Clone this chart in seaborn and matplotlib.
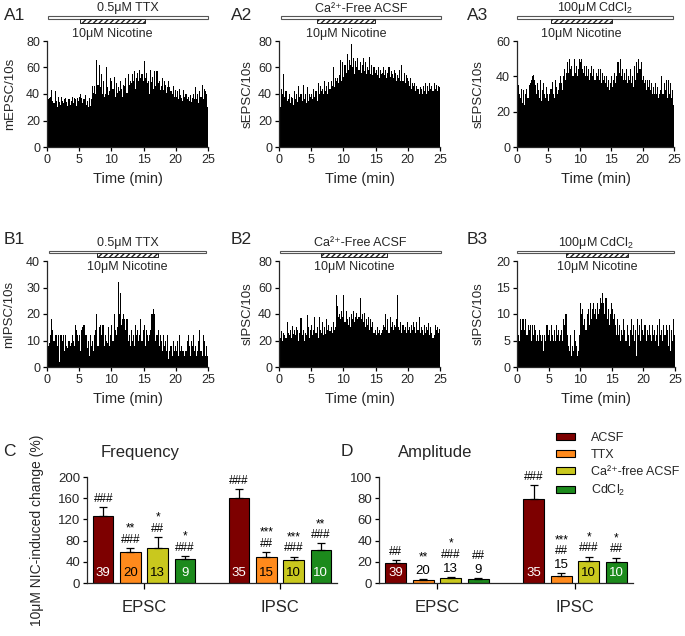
import matplotlib
matplotlib.use("Agg")
import matplotlib.pyplot as plt
from matplotlib.patches import Patch, Rectangle
from matplotlib.transforms import blended_transform_factory
import numpy as np
import pandas as pd
import seaborn as sns

# ---------------------------------------------------------------------------
# Data: events per 10-s bin, 25 min recordings (150 bins)
# ---------------------------------------------------------------------------
mepsc_ttx = [37, 36, 37, 38, 43, 35, 33, 42, 35, 30, 38, 34, 32, 38, 35, 33, 36, 37,
             34, 31, 36, 32, 35, 38, 33, 37, 36, 31, 37, 35, 38, 40, 37, 33, 36, 39,
             32, 35, 30, 37, 31, 36, 46, 41, 46, 40, 66, 47, 62, 45, 55, 40, 50, 38,
             40, 60, 45, 39, 42, 52, 50, 44, 53, 38, 48, 41, 45, 42, 50, 44, 38, 47,
             46, 52, 41, 55, 47, 50, 48, 55, 50, 57, 44, 52, 56, 50, 58, 52, 55, 50,
             65, 52, 56, 48, 50, 40, 58, 49, 53, 44, 57, 46, 57, 48, 50, 43, 46, 52,
             43, 50, 47, 41, 45, 50, 45, 42, 40, 46, 38, 43, 38, 42, 36, 44, 39, 37,
             35, 43, 38, 40, 36, 38, 35, 39, 34, 37, 40, 36, 45, 36, 40, 33, 42, 38,
             47, 36, 44, 42, 40, 30]
sepsc_ca = [45, 30, 44, 40, 55, 38, 42, 35, 36, 40, 33, 38, 37, 32, 42, 36, 40, 34,
            46, 38, 40, 35, 47, 36, 40, 33, 45, 35, 40, 38, 40, 36, 44, 38, 42, 35,
            48, 40, 46, 42, 44, 40, 50, 42, 46, 40, 49, 44, 50, 46, 60, 45, 52, 50,
            52, 48, 54, 66, 50, 64, 53, 62, 56, 70, 58, 66, 62, 78, 60, 67, 55, 65,
            60, 67, 58, 64, 56, 62, 67, 57, 64, 55, 60, 58, 68, 55, 62, 54, 60, 56,
            58, 54, 60, 52, 58, 55, 56, 60, 54, 58, 52, 56, 60, 53, 57, 55, 52, 58,
            56, 50, 54, 52, 58, 50, 62, 50, 56, 48, 54, 52, 50, 46, 52, 44, 48, 46,
            48, 42, 46, 44, 40, 45, 44, 40, 46, 42, 48, 40, 46, 42, 48, 44, 46, 42,
            48, 44, 47, 42, 46, 45]
sepsc_cd = [40, 35, 30, 28, 33, 25, 32, 24, 30, 33, 28, 35, 36, 38, 40, 41, 38, 35,
            30, 36, 32, 28, 38, 26, 32, 36, 30, 28, 34, 30, 26, 30, 33, 37, 30, 28,
            38, 34, 30, 32, 36, 40, 36, 32, 40, 44, 38, 42, 48, 42, 50, 44, 46, 40,
            50, 42, 46, 40, 44, 50, 48, 50, 44, 42, 46, 40, 46, 40, 44, 38, 42, 46,
            40, 44, 38, 42, 40, 44, 38, 44, 36, 42, 38, 40, 36, 40, 34, 38, 32, 36,
            40, 34, 38, 42, 36, 40, 48, 42, 50, 40, 44, 38, 42, 38, 44, 36, 40, 38,
            44, 36, 40, 34, 46, 38, 48, 42, 50, 44, 48, 38, 40, 36, 38, 32, 38, 34,
            38, 32, 36, 30, 34, 30, 36, 30, 34, 28, 30, 32, 40, 30, 36, 32, 38, 28,
            38, 30, 36, 28, 32, 24]
mipsc_ttx = [10, 8, 9, 12, 18, 14, 10, 12, 12, 8, 12, 2, 12, 12, 10, 12, 6, 12,
             8, 7, 10, 8, 9, 12, 10, 8, 16, 14, 12, 10, 12, 6, 14, 15, 16, 12,
             12, 7, 10, 4, 12, 8, 10, 6, 12, 14, 20, 8, 15, 16, 12, 16, 16, 8,
             12, 10, 9, 15, 8, 12, 16, 10, 20, 14, 12, 15, 32, 20, 28, 16, 18, 20,
             18, 14, 18, 10, 12, 8, 14, 10, 12, 8, 16, 12, 14, 10, 12, 18, 10, 14,
             16, 8, 14, 12, 10, 12, 14, 20, 20, 22, 20, 10, 12, 14, 8, 12, 10, 6,
             12, 8, 10, 6, 12, 3, 6, 8, 4, 10, 6, 8, 6, 10, 4, 12, 6, 8,
             6, 6, 4, 6, 10, 12, 8, 4, 10, 8, 12, 6, 8, 4, 6, 10, 14, 6,
             4, 12, 10, 4, 8, 4]
sipsc_ca = [29, 22, 27, 20, 26, 24, 22, 34, 26, 24, 28, 22, 31, 25, 28, 24, 30, 28,
            20, 26, 37, 24, 28, 20, 26, 24, 39, 30, 22, 28, 32, 24, 28, 38, 26, 30,
            22, 38, 28, 26, 34, 24, 30, 25, 36, 28, 32, 27, 30, 26, 34, 28, 30, 54,
            46, 38, 40, 36, 42, 38, 54, 34, 42, 36, 32, 38, 30, 40, 36, 42, 34, 38,
            41, 36, 38, 52, 36, 40, 34, 41, 30, 36, 32, 38, 28, 36, 30, 34, 26, 28,
            24, 30, 26, 28, 24, 26, 28, 32, 30, 40, 28, 36, 26, 38, 30, 34, 28, 32,
            30, 36, 54, 30, 28, 34, 26, 32, 28, 30, 26, 34, 28, 30, 26, 32, 28, 34,
            30, 26, 34, 28, 38, 26, 30, 28, 24, 32, 26, 30, 28, 33, 24, 30, 26, 22,
            24, 32, 28, 30, 26, 29]
sipsc_cd = [8, 6, 5, 9, 7, 9, 9, 7, 9, 6, 8, 7, 8, 5, 8, 6, 8, 7,
            5, 6, 5, 7, 6, 5, 6, 3, 6, 5, 8, 6, 7, 5, 8, 6, 5, 7,
            5, 8, 6, 7, 5, 6, 7, 5, 9, 8, 10, 6, 4, 3, 6, 2, 4, 3,
            7, 5, 4, 2, 3, 6, 12, 10, 11, 8, 9, 7, 10, 11, 8, 12, 9, 11,
            12, 10, 11, 9, 12, 10, 11, 13, 12, 14, 12, 10, 13, 9, 11, 8, 10, 12,
            11, 9, 10, 8, 6, 9, 6, 8, 5, 7, 6, 9, 7, 5, 8, 6, 4, 7,
            9, 6, 8, 5, 7, 2, 9, 6, 8, 5, 9, 7, 6, 8, 5, 7, 6, 8,
            6, 5, 8, 6, 7, 5, 6, 8, 4, 9, 6, 7, 5, 8, 6, 8, 7, 4,
            8, 3, 7, 5, 9, 6]

# Summary bars (order: EPSC x4 conditions, then IPSC x4 conditions)
groups = ["EPSC", "IPSC"]
conditions = ["ACSF", "TTX", "Ca²⁺-free ACSF", "CdCl$_2$"]
freq_mean = [127, 58, 66, 45, 160, 50, 43, 62]
freq_sem = [16, 8, 21, 6, 18, 9, 7, 13]
freq_n = ["39", "20", "13", "9", "35", "15", "10", "10"]
freq_n_inside = [True] * 8
freq_marks = ["###", "**\n###", "*\n##", "*\n###", "###", "***\n##", "***\n###", "**\n###"]
amp_mean = [19, 2.5, 5, 4, 79, 7, 21, 20]
amp_sem = [3, 1, 1, 1, 13, 2, 4, 4]
amp_n = ["39", "20", "13", "9", "35", "15", "10", "10"]
amp_n_inside = [True, False, False, False, True, False, True, True]
amp_marks = ["##", "**", "*\n###", "##", "###", "***\n##", "*\n###", "*\n##"]

cond_colors = ["#7d0000", "#ff8a1c", "#c9c81e", "#1c8a1c"]
n_text_colors = ["white", "black", "black", "white"]

W, H = 685, 636

sns.set_theme(style="ticks")
plt.rcParams["font.family"] = ["Liberation Sans", "DejaVu Sans"]
plt.rcParams["mathtext.fontset"] = "custom"
plt.rcParams["mathtext.rm"] = "Liberation Sans"
plt.rcParams["mathtext.it"] = "Liberation Sans:italic"
plt.rcParams["mathtext.default"] = "rm"
plt.rcParams["axes.linewidth"] = 0.9


def px_axes(fig, left, top, right, bottom):
    return fig.add_axes([left / W, 1 - bottom / H, (right - left) / W, (bottom - top) / H])


def style_axes(ax, fs=9):
    sns.despine(ax=ax)
    ax.tick_params(axis="both", labelsize=fs, length=3, width=0.9, pad=2,
                   direction="out", color="black")


def draw_trace(ax, counts, ymax, yticks, ylabel, label_right_px, axis_left_px,
               treat_label, treat_span, nic_span, row):
    times = np.arange(len(counts)) / 6 + 1 / 12
    sns.histplot(x=times, weights=counts, bins=len(counts), binrange=(0, 25),
                 color="black", alpha=1, linewidth=0, ax=ax)
    ax.set_xlim(0, 25)
    ax.set_ylim(0, ymax)
    ax.set_xticks([0, 5, 10, 15, 20, 25])
    ax.set_yticks(yticks)
    style_axes(ax)
    ax.set_xlabel("Time (min)", fontsize=10.5, labelpad=4)
    ax.set_ylabel(ylabel, fontsize=9.5)
    bb = ax.get_position()
    w_px = bb.width * W
    ax.yaxis.set_label_coords((label_right_px + 2 - axis_left_px) / w_px, 0.5)

    # condition / nicotine bars above the plot
    h_px = bb.height * H
    tr = blended_transform_factory(ax.transData, ax.transAxes)
    if row == "A":
        tb, th, nb, nh, tt, nt = 22.0, 3.0, 18.3, 3.4, 32.5, 7.5
    else:
        tb, th, nb, nh, tt, nt = 7.7, 2.7, 4.3, 3.3, 17.7, -5.7
    ax.add_patch(Rectangle((treat_span[0], 1 + tb / h_px), treat_span[1] - treat_span[0],
                           th / h_px, transform=tr, clip_on=False, facecolor="white",
                           edgecolor="#555555", linewidth=0.8))
    ax.add_patch(Rectangle((nic_span[0], 1 + nb / h_px), nic_span[1] - nic_span[0],
                           nh / h_px, transform=tr, clip_on=False, facecolor="white",
                           edgecolor="#222222", linewidth=0.7, hatch="//////"))
    ax.text((treat_span[0] + treat_span[1]) / 2, 1 + tt / h_px, treat_label,
            transform=tr, ha="center", va="center", fontsize=9)
    ax.text((nic_span[0] + nic_span[1]) / 2, 1 + nt / h_px, "10μM Nicotine",
            transform=tr, ha="center", va="center", fontsize=9)


def draw_summary(ax, means, sems, ns, n_inside, marks, ymax, yticks):
    df = pd.DataFrame({
        "cell": [g for g in groups for _ in conditions],
        "cond": [c for _ in groups for c in conditions],
        "change": means,
    })
    sns.barplot(data=df, x="cell", y="change", hue="cond", order=groups,
                hue_order=conditions, palette=cond_colors, saturation=1,
                width=0.8, gap=0.25, edgecolor="black", linewidth=0.8,
                errorbar=None, legend=False, ax=ax)
    bars = sorted(ax.patches, key=lambda p: p.get_x())
    xs = [p.get_x() + p.get_width() / 2 for p in bars]
    ax.errorbar(xs, means, yerr=[[0] * len(sems), sems], fmt="none",
                ecolor="black", elinewidth=0.9, capsize=3, capthick=0.9, zorder=1)
    for i, x in enumerate(xs):
        ci = i % len(conditions)
        top = means[i] + sems[i]
        cursor = 1.5
        if n_inside[i]:
            ax.annotate(ns[i], (x, 0), xytext=(0, 7), textcoords="offset points",
                        ha="center", va="center", fontsize=9.5, color=n_text_colors[ci])
        else:
            ax.annotate(ns[i], (x, top), xytext=(0, cursor), textcoords="offset points",
                        ha="center", va="bottom", fontsize=9.5, color="black")
            cursor += 10
        for line in reversed(marks[i].split("\n")):
            ax.annotate(line, (x, top), xytext=(0, cursor), textcoords="offset points",
                        ha="center", va="bottom", fontsize=8.5, color="black")
            cursor += 8
    ax.set_ylim(0, ymax)
    ax.set_yticks(yticks)
    ax.set_xlim(-0.42, 1.42)
    style_axes(ax, fs=9.5)
    ax.tick_params(axis="x", labelsize=12, pad=8, length=4)
    ax.set_xlabel("")
    ax.set_ylabel("")


fig = plt.figure(figsize=(W / 100, H / 100), dpi=100)

ax_a1 = px_axes(fig, 47, 41, 208, 147)
draw_trace(ax_a1, mepsc_ttx, 80, [0, 20, 40, 60, 80], "mEPSC/10s", 14, 47,
           "0.5μM TTX", (0.2, 25), (5.1, 15.2), "A")
ax_a2 = px_axes(fig, 279, 41, 440, 147)
draw_trace(ax_a2, sepsc_ca, 80, [0, 20, 40, 60, 80], "sEPSC/10s", 252, 279,
           "Ca²⁺-Free ACSF", (0.3, 25.2), (5.9, 14.9), "A")
ax_a3 = px_axes(fig, 517, 41, 674, 147)
draw_trace(ax_a3, sepsc_cd, 60, [0, 20, 40, 60], "sEPSC/10s", 483, 517,
           "100μM CdCl$_2$", (0.0, 24.9), (5.4, 15.1), "A")
ax_b1 = px_axes(fig, 47, 261, 208, 367)
draw_trace(ax_b1, mipsc_ttx, 40, [0, 10, 20, 30, 40], "mIPSC/10s", 13, 47,
           "0.5μM TTX", (0.3, 24.7), (7.8, 17.2), "B")
ax_b2 = px_axes(fig, 279, 261, 440, 367)
draw_trace(ax_b2, sipsc_ca, 80, [0, 20, 40, 60, 80], "sIPSC/10s", 252, 279,
           "Ca²⁺-Free ACSF", (0.2, 25.1), (6.5, 16.8), "B")
ax_b3 = px_axes(fig, 517, 261, 675, 367)
draw_trace(ax_b3, sipsc_cd, 20, [0, 5, 10, 15, 20], "sIPSC/10s", 483, 517,
           "100μM CdCl$_2$", (0.0, 24.9), (7.7, 17.6), "B")

ax_c = px_axes(fig, 87, 477, 337, 583)
draw_summary(ax_c, freq_mean, freq_sem, freq_n, freq_n_inside, freq_marks,
             200, [0, 40, 80, 120, 160, 200])
ax_c.set_ylabel("10μM NIC-induced change (%)", fontsize=10)
ax_c.yaxis.set_label_coords((44 - 87) / 250, 0.5)

ax_d = px_axes(fig, 379, 477, 633, 583)
draw_summary(ax_d, amp_mean, amp_sem, amp_n, amp_n_inside, amp_marks,
             100, [0, 20, 40, 60, 80, 100])

fig.text(140 / W, 1 - 452 / H, "Frequency", ha="center", va="center", fontsize=12)
fig.text(435 / W, 1 - 452 / H, "Amplitude", ha="center", va="center", fontsize=12)

handles = [Patch(facecolor=c, edgecolor="black", linewidth=0.8, label=l)
           for c, l in zip(cond_colors, conditions)]
fig.legend(handles=handles, loc="upper left", bbox_to_anchor=(556 / W, 1 - 432 / H),
           frameon=False, fontsize=9, handlelength=1.5, handleheight=0.55,
           handletextpad=1.3, labelspacing=0.4, borderpad=0, borderaxespad=0)

panel_labels = [("A1", 4, 15), ("A2", 231, 15), ("A3", 467, 15),
                ("B1", 4, 239), ("B2", 231, 239), ("B3", 467, 239),
                ("C", 3, 452), ("D", 341, 452)]
for txt, x, y in panel_labels:
    fig.text(x / W, 1 - y / H, txt, ha="left", va="center", fontsize=12.5)

fig.savefig("out.png", dpi=100)
